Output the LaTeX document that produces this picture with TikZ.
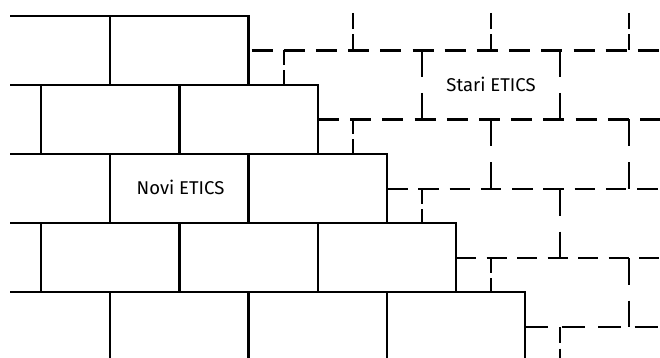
\documentclass[tikz,border=0pt]{standalone}
\usepackage{fontspec}
\setmainfont{Fira Sans}
\begin{document}
\begin{tikzpicture}[x=1pt,y=-1pt,
  wall/.style={line width=2.2pt},
  old/.style={line width=2.2pt},
  hdash/.style 2 args={old, dash pattern=on #1 off #2},
  vfull/.style={old, dash pattern=on 26.5pt off 16pt},
  vhalf/.style={old, dash pattern=on #1 off 5.5pt},
  vhalf/.default=14.5pt,
  label/.style={font=\fontsize{18.5}{20}\selectfont, inner sep=0pt, anchor=base}]
\useasboundingbox (0,0) rectangle (660,358);

% ---- new ETICS (solid bricks) ----
\draw[wall] (10,16) -- (248.5,16) -- (248.5,85) -- (318,85) -- (318,154)
  -- (387,154) -- (387,223) -- (456,223) -- (456,292) -- (525,292) -- (525,358);
\draw[wall] (10,85) -- (248.5,85);
\draw[wall] (10,154) -- (318,154);
\draw[wall] (10,223) -- (387,223);
\draw[wall] (10,292) -- (456,292);
% row 1
\draw[wall] (110,16) -- (110,85);
% row 2
\foreach \x in {41,179.5} \draw[wall] (\x,85) -- (\x,154);
% row 3
\foreach \x in {110,248.5} \draw[wall] (\x,154) -- (\x,223);
% row 4
\foreach \x in {41,179.5,318} \draw[wall] (\x,223) -- (\x,292);
% row 5
\foreach \x in {110,248.5,387} \draw[wall] (\x,292) -- (\x,358);

% ---- old ETICS (dashed bricks) ----
\draw[hdash={21pt}{11.2pt}, dash phase=29.2pt] (248.5,50.5) -- (660,50.5);
\draw[hdash={21pt}{11.2pt}] (318,119.5) -- (660,119.5);
\draw[hdash={20.5pt}{10.75pt}] (387,189) -- (660,189);
\draw[hdash={20pt}{10.5pt}] (456,258) -- (660,258);
\draw[hdash={23pt}{13.5pt}] (525,327) -- (660,327);

\foreach \x in {353,491,629} \draw[vhalf=16pt] (\x,13) -- (\x,50.5);
\draw[vhalf] (284,50.5) -- (284,85);
\foreach \x in {422,560} \draw[vfull] (\x,50.5) -- (\x,119.5);
\draw[vhalf] (353,119.5) -- (353,154);
\foreach \x in {491,629} \draw[vfull] (\x,119.5) -- (\x,189);
\draw[vhalf] (422,189) -- (422,223);
\draw[vfull] (560,189) -- (560,258);
\draw[vhalf] (491,258) -- (491,292);
\draw[vfull] (629,258) -- (629,327);
\draw[vhalf=16pt] (560,327) -- (560,358);

% ---- labels ----
\node[label] (novi) at (180.5,194) {Novi ETICS};
\node[label] (stari) at (491,92) {Stari ETICS};
\end{tikzpicture}
\end{document}
